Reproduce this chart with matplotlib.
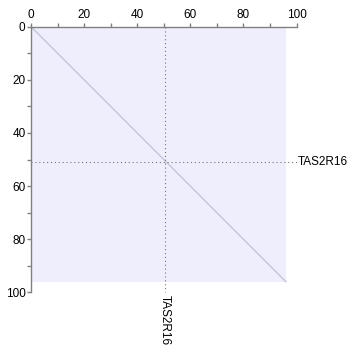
import matplotlib
matplotlib.use("Agg")
import matplotlib.pyplot as plt
from matplotlib.patches import Rectangle

plt.rcParams['font.family'] = ['Liberation Sans', 'DejaVu Sans']

# sequence length (both axes are the same protein)
seq_len = 96
seq_name = "TAS2R16"
# marker position drawn as dotted crosshair
mark_x = 50.5
mark_y = 50.8
# diagonal of identity matches
diag_x = [0, 96]
diag_y = [0, 96]
major_ticks = [0, 20, 40, 60, 80, 100]
minor_ticks = [10, 30, 50, 70, 90]

fig = plt.figure(figsize=(3.62, 3.53), dpi=100)
ax = fig.add_axes([31/362, 1 - 292.3/353, (296.5-31)/362, (292.3-26.7)/353])

ax.set_xlim(0, 100)
ax.set_ylim(100, 0)

ax.add_patch(Rectangle((0, 0), seq_len, seq_len, facecolor="#eeeefc", edgecolor="none", zorder=0))
ax.plot(diag_x, diag_y, color="#c4c4dc", lw=1.0, zorder=2)

ax.plot([mark_x, mark_x], [0, 100], color="#777777", lw=0.8, ls=(0, (1, 2.5)), zorder=3, clip_on=False)
ax.plot([0, 100], [mark_y, mark_y], color="#777777", lw=0.8, ls=(0, (1, 2.5)), zorder=3, clip_on=False)

ax.text(100.5, mark_y, seq_name, ha="left", va="center", fontsize=8.5)
ax.text(mark_x, 101.2, seq_name, ha="center", va="top", rotation=-90, fontsize=8.5)

for s in ["right", "bottom"]:
    ax.spines[s].set_visible(False)
for s in ["left", "top"]:
    ax.spines[s].set_color("#808080")
    ax.spines[s].set_linewidth(1.0)

ax.xaxis.tick_top()
ax.set_xticks(major_ticks)
ax.set_xticks(minor_ticks, minor=True)
ax.set_yticks(major_ticks)
ax.set_yticks(minor_ticks, minor=True)
ax.tick_params(which="both", direction="out", color="#808080", length=3, width=1)
ax.tick_params(labelsize=8.5, pad=1)

fig.savefig("out.png", dpi=100)
